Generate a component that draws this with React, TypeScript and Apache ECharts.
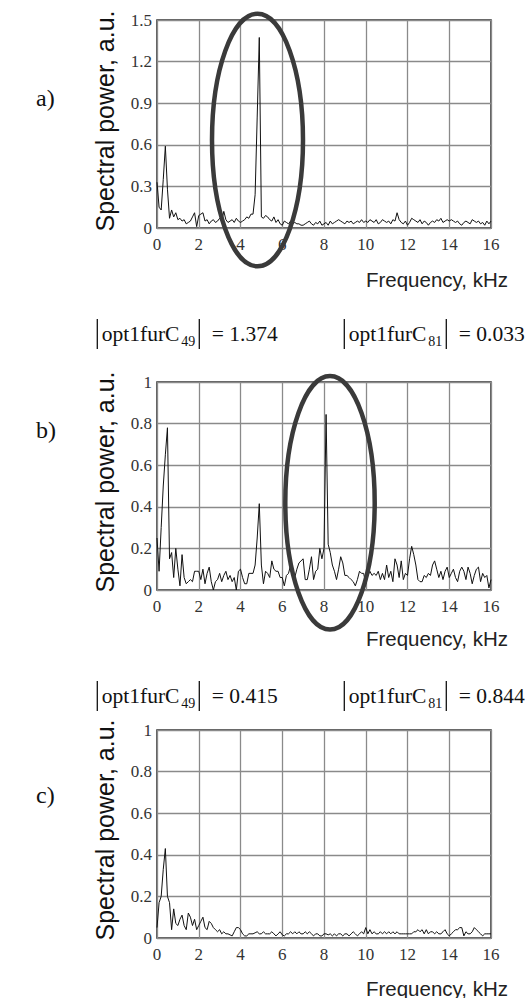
import React, { useEffect, useRef } from 'react';
import * as echarts from 'echarts';

// Frequency spacing of the spectral samples (kHz)
const FREQ_STEP_KHZ = 0.1;
const xTicks = [0, 2, 4, 6, 8, 10, 12, 14, 16];

// Panel a) spectral power, 0 .. 16 kHz, step 0.1 kHz
const powerA = [
  0.33, 0.15, 0.13, 0.35, 0.59, 0.28, 0.07, 0.13, 0.08, 0.11,
  0.06, 0.07, 0.05, 0.06, 0.03, 0.04, 0.05, 0.08, 0.11, 0.01,
  0.09, 0.10, 0.11, 0.05, 0.06, 0.03, 0.05, 0.06, 0.04, 0.05,
  0.07, 0.05, 0.12, 0.06, 0.04, 0.05, 0.06, 0.04, 0.07, 0.05,
  0.04, 0.05, 0.06, 0.08, 0.07, 0.10, 0.10, 0.24, 0.80, 1.374,
  0.08, 0.07, 0.09, 0.08, 0.06, 0.05, 0.08, 0.04, 0.06, 0.03,
  0.02, 0.05, 0.04, 0.03, 0.05, 0.03, 0.04, 0.03, 0.03, 0.02,
  0.02, 0.03, 0.04, 0.05, 0.03, 0.02, 0.04, 0.03, 0.05, 0.02,
  0.03, 0.04, 0.02, 0.05, 0.03, 0.04, 0.05, 0.06, 0.05, 0.04,
  0.03, 0.05, 0.04, 0.05, 0.03, 0.04, 0.05, 0.04, 0.06, 0.04,
  0.05, 0.04, 0.06, 0.05, 0.04, 0.06, 0.03, 0.04, 0.06, 0.05,
  0.04, 0.05, 0.03, 0.06, 0.05, 0.11, 0.06, 0.04, 0.03, 0.05,
  0.02, 0.04, 0.07, 0.06, 0.05, 0.04, 0.06, 0.03, 0.05, 0.04,
  0.02, 0.04, 0.05, 0.04, 0.06, 0.05, 0.07, 0.04, 0.05, 0.06,
  0.05, 0.06, 0.05, 0.04, 0.05, 0.03, 0.02, 0.04, 0.05, 0.04,
  0.03, 0.06, 0.05, 0.04, 0.05, 0.03, 0.04, 0.02, 0.05, 0.03,
  0.05,
];

// Panel b)
const powerB = [
  0.25, 0.09, 0.30, 0.50, 0.65, 0.78, 0.15, 0.18, 0.06, 0.20,
  0.10, 0.02, 0.17, 0.06, 0.03, 0.04, 0.05, 0.04, 0.09, 0.09,
  0.09, 0.05, 0.10, 0.03, 0.08, 0.11, 0.04, 0.00, 0.04, 0.05,
  0.08, 0.04, 0.07, 0.09, 0.05, 0.07, 0.04, 0.06, 0.00, 0.09,
  0.10, 0.06, 0.03, 0.03, 0.08, 0.08, 0.08, 0.12, 0.25, 0.415,
  0.12, 0.03, 0.09, 0.08, 0.06, 0.14, 0.10, 0.09, 0.09, 0.06,
  0.06, 0.02, 0.07, 0.08, 0.12, 0.07, 0.06, 0.10, 0.13, 0.14,
  0.15, 0.05, 0.05, 0.10, 0.16, 0.05, 0.09, 0.10, 0.20, 0.15,
  0.20, 0.844, 0.22, 0.18, 0.12, 0.09, 0.05, 0.10, 0.16, 0.13,
  0.07, 0.07, 0.06, 0.05, 0.04, 0.02, 0.05, 0.09, 0.08, 0.08,
  0.03, 0.07, 0.09, 0.07, 0.08, 0.07, 0.09, 0.05, 0.08, 0.05,
  0.12, 0.06, 0.09, 0.04, 0.15, 0.12, 0.06, 0.14, 0.05, 0.08,
  0.07, 0.15, 0.21, 0.17, 0.12, 0.05, 0.04, 0.04, 0.07, 0.06,
  0.08, 0.07, 0.12, 0.14, 0.10, 0.06, 0.09, 0.05, 0.09, 0.11,
  0.06, 0.08, 0.10, 0.06, 0.04, 0.09, 0.11, 0.09, 0.05, 0.11,
  0.08, 0.03, 0.07, 0.10, 0.11, 0.04, 0.08, 0.06, 0.07, 0.01,
  0.05,
];

// Panel c)
const powerC = [
  0.05, 0.17, 0.20, 0.33, 0.43, 0.20, 0.17, 0.04, 0.14, 0.07,
  0.06, 0.09, 0.11, 0.06, 0.04, 0.12, 0.10, 0.06, 0.09, 0.04,
  0.06, 0.08, 0.10, 0.05, 0.04, 0.08, 0.07, 0.05, 0.04, 0.03,
  0.04, 0.02, 0.03, 0.02, 0.02, 0.015, 0.01, 0.03, 0.05, 0.05,
  0.04, 0.02, 0.01, 0.01, 0.02, 0.02, 0.02, 0.025, 0.03, 0.02,
  0.02, 0.03, 0.02, 0.02, 0.02, 0.03, 0.02, 0.01, 0.02, 0.03,
  0.015, 0.01, 0.02, 0.02, 0.03, 0.02, 0.03, 0.02, 0.03, 0.02,
  0.02, 0.03, 0.02, 0.03, 0.02, 0.01, 0.02, 0.02, 0.01, 0.01,
  0.02, 0.02, 0.015, 0.02, 0.01, 0.02, 0.01, 0.02, 0.02, 0.01,
  0.02, 0.02, 0.01, 0.02, 0.03, 0.02, 0.01, 0.02, 0.03, 0.02,
  0.05, 0.02, 0.04, 0.02, 0.03, 0.02, 0.02, 0.03, 0.02, 0.03,
  0.02, 0.03, 0.02, 0.03, 0.02, 0.03, 0.02, 0.02, 0.02, 0.02,
  0.02, 0.02, 0.02, 0.03, 0.03, 0.04, 0.03, 0.04, 0.02, 0.04,
  0.02, 0.03, 0.03, 0.02, 0.03, 0.02, 0.02, 0.03, 0.04, 0.02,
  0.01, 0.02, 0.03, 0.04, 0.04, 0.05, 0.05, 0.01, 0.03, 0.02,
  0.02, 0.03, 0.05, 0.04, 0.03, 0.02, 0.01, 0.02, 0.02, 0.02,
  0.02,
];

const yMaxes = [1.5, 1, 1];
const yIntervals = [0.3, 0.2, 0.2];
const panelLetters = ['a)', 'b)', 'c)'];
const coefIndices = ['49', '81'];
const coefRowB = ['1.374', '0.033'];
const coefRowC = ['0.415', '0.844'];
const xAxisTitle = 'Frequency, kHz';
const yAxisTitle = 'Spectral power, a.u.';

export default function App() {
  const ref = useRef<HTMLDivElement>(null);

  useEffect(() => {
    if (!ref.current) return;
    const chart = echarts.init(ref.current, null, { renderer: 'svg' });

    const gridTops = [20, 382, 730];
    const gridLeft = 157;
    const gridW = 334;
    const gridH = 208;
    const serif = '"Liberation Serif", "Times New Roman", serif';
    const sans = '"Liberation Sans", Arial, sans-serif';
    const series = [powerA, powerB, powerC];

    const grids = gridTops.map((t) => ({
      left: gridLeft,
      top: t,
      width: gridW,
      height: gridH,
      show: true,
      borderColor: '#2a2a2a',
      borderWidth: 1.5,
      backgroundColor: 'transparent',
    }));

    const tickRich = {
      t: { fontFamily: serif, fontSize: 17, color: '#333' },
    };
    const tickFormatter = (v: number) => `{t|${v}}`;

    const xAxes = gridTops.map((_, i) => ({
      type: 'value',
      gridIndex: i,
      min: xTicks[0],
      max: xTicks[xTicks.length - 1],
      interval: xTicks[1] - xTicks[0],
      axisLine: { show: false },
      axisTick: { show: false },
      splitLine: { show: true, lineStyle: { color: '#8a8a8a', width: 1.3 } },
      axisLabel: { fontFamily: serif, fontSize: 17, color: '#333', margin: 8, formatter: tickFormatter, rich: tickRich },
    }));

    const yAxes = gridTops.map((_, i) => ({
      type: 'value',
      gridIndex: i,
      min: 0,
      max: yMaxes[i],
      interval: yIntervals[i],
      axisLine: { show: false },
      axisTick: { show: false },
      splitLine: { show: true, lineStyle: { color: '#8a8a8a', width: 1.3 } },
      axisLabel: { fontFamily: serif, fontSize: 17, color: '#333', margin: 5, formatter: tickFormatter, rich: tickRich },
    }));

    const lineSeries = series.map((vals, i) => ({
      type: 'line',
      xAxisIndex: i,
      yAxisIndex: i,
      symbol: 'none',
      data: vals.map((v, k) => [Number((k * FREQ_STEP_KHZ).toFixed(1)), v]),
      lineStyle: { color: '#111', width: 1 },
      z: 5,
    }));

    const graphic: any[] = [];

    // Panel letters
    const letterY = [98, 430, 795];
    panelLetters.forEach((l, i) => {
      graphic.push({
        type: 'text', x: 36, y: letterY[i], z: 50,
        style: { text: l, font: `24px ${serif}`, fill: '#111', textAlign: 'left', textVerticalAlign: 'middle' },
      });
    });

    // y-axis titles (rotated)
    const yTitleY = [121, 482, 830];
    yTitleY.forEach((y) => {
      graphic.push({
        type: 'text', x: 105, y, rotation: Math.PI / 2, z: 50,
        style: { text: yAxisTitle, font: `25px ${sans}`, fill: '#111', textAlign: 'center', textVerticalAlign: 'middle' },
      });
    });

    // x-axis titles
    const xTitleY = [279, 638, 988];
    xTitleY.forEach((y) => {
      graphic.push({
        type: 'text', x: 508, y, z: 50,
        style: { text: xAxisTitle, font: `20.5px ${sans}`, fill: '#222', textAlign: 'right', textVerticalAlign: 'middle' },
      });
    });

    // coefficient annotations
    const rows = [
      { y: 334, vals: coefRowB },
      { y: 696, vals: coefRowC },
    ];
    const groupX = [97.3, 344.3];
    rows.forEach((row) => {
      groupX.forEach((x0, g) => {
        const Y = row.y;
        graphic.push({ type: 'line', z: 50, shape: { x1: x0, y1: Y - 15, x2: x0, y2: Y + 15 }, style: { stroke: '#111', lineWidth: 1.3 } });
        graphic.push({ type: 'line', z: 50, shape: { x1: x0 + 102, y1: Y - 15, x2: x0 + 102, y2: Y + 15 }, style: { stroke: '#111', lineWidth: 1.3 } });
        graphic.push({
          type: 'text', x: x0 + 4.5, y: Y, z: 50,
          style: { text: 'opt1furC', font: `21.5px ${serif}`, fill: '#111', textAlign: 'left', textVerticalAlign: 'middle' },
        });
        graphic.push({
          type: 'text', x: x0 + 84, y: Y + 7, z: 50,
          style: { text: coefIndices[g], font: `14px ${serif}`, fill: '#111', textAlign: 'left', textVerticalAlign: 'middle' },
        });
        graphic.push({
          type: 'text', x: x0 + 114.5, y: Y, z: 50,
          style: { text: '= ' + row.vals[g], font: `21.5px ${serif}`, fill: '#111', textAlign: 'left', textVerticalAlign: 'middle' },
        });
      });
    });

    // highlight ellipses
    graphic.push({
      type: 'ellipse', z: 60,
      shape: { cx: 257.5, cy: 140, rx: 45.5, ry: 126.3 },
      style: { fill: 'none', stroke: '#3a3a3a', lineWidth: 4.5 },
    });
    graphic.push({
      type: 'ellipse', z: 60,
      shape: { cx: 330, cy: 502.8, rx: 44.7, ry: 126.8 },
      style: { fill: 'none', stroke: '#3a3a3a', lineWidth: 4.5 },
    });

    chart.setOption({
      animation: false,
      backgroundColor: '#fff',
      textStyle: { fontFamily: serif },
      grid: grids,
      xAxis: xAxes,
      yAxis: yAxes,
      series: lineSeries,
      graphic,
    });

    return () => chart.dispose();
  }, []);

  return (
    <div
      ref={ref}
      style={{ position: 'fixed', left: 0, top: 0, width: 527, height: 998, background: '#fff' }}
    />
  );
}
